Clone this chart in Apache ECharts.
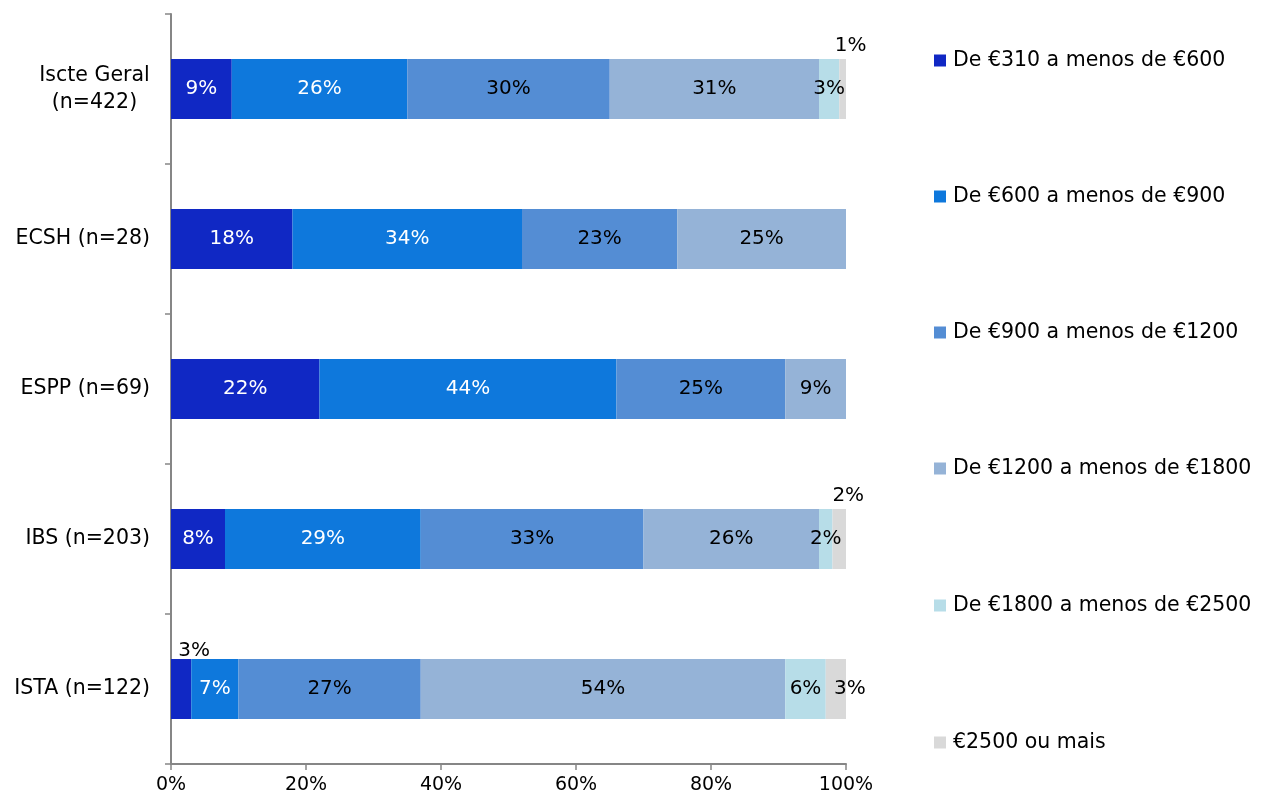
<!DOCTYPE html>
<html>
<head>
<meta charset="utf-8">
<script src="https://cdn.jsdelivr.net/npm/echarts@6/dist/echarts.min.js"></script>
<style>html,body{margin:0;padding:0;background:#fff}#c{width:1286px;height:803px}</style>
</head>
<body>
<div id="c"></div>
<script>
const categories = ['Iscte Geral\n(n=422)', 'ECSH (n=28)', 'ESPP (n=69)', 'IBS (n=203)', 'ISTA (n=122)'];
const seriesNames = ['De €310 a menos de €600', 'De €600 a menos de €900', 'De €900 a menos de €1200', 'De €1200 a menos de €1800', 'De €1800 a menos de €2500', '€2500 ou mais'];
const s310 = [9, 18, 22, 8, 3];
const s600 = [26, 34, 44, 29, 7];
const s900 = [30, 23, 25, 33, 27];
const s1200 = [31, 25, 9, 26, 54];
const s1800 = [3, 0, 0, 2, 6];
const s2500 = [1, 0, 0, 2, 3];
const xTicks = [0, 20, 40, 60, 80, 100];

const values = [s310, s600, s900, s1200, s1800, s2500];
const colors = ['#1028C4', '#0E78DC', '#548DD4', '#95B3D7', '#B7DDE8', '#D9D9D9'];
const labelColors = ['#fff', '#fff', '#000', '#000', '#000', '#000'];
const FONT = 'DejaVu Sans';
const FS = 19;
const FS_BAR = 20;
const FS_TXT = 20.5;

function textWidth(t, fs) {
  const c = document.createElement('canvas').getContext('2d');
  c.font = fs + 'px "' + FONT + '"';
  return c.measureText(t).width;
}

const special = {
  '5-0': {position: 'top', offset: [8, 0], distance: 3},
  '5-3': {position: 'top', offset: [9, 0], distance: 3},
  '0-4': {position: 'top', offset: [13, 0], distance: -2},
  '5-4': {position: 'inside', offset: [14, 0]}
};

const series = values.map((arr, si) => ({
  name: seriesNames[si],
  type: 'bar',
  stack: 'total',
  barWidth: 60,
  itemStyle: {color: colors[si]},
  label: {
    show: true,
    position: 'inside',
    color: labelColors[si],
    fontFamily: FONT,
    fontSize: FS_BAR,
    formatter: p => p.value > 0 ? p.value + '%' : ''
  },
  data: arr.map((v, ci) => {
    const key = si + '-' + ci;
    if (special[key]) {
      return {value: v, label: Object.assign({color: '#000'}, special[key])};
    }
    return v;
  })
}));

const legendTops = [50, 186, 322, 458, 595, 732];
const legends = seriesNames.map((n, i) => ({
  data: [n],
  left: 934,
  top: legendTops[i],
  padding: 0,
  orient: 'vertical',
  itemWidth: 12,
  itemHeight: 12,
  itemGap: 0,
  icon: 'rect',
  textStyle: {fontFamily: FONT, fontSize: FS_TXT, color: '#000', padding: [0, 0, 0, 2]},
  selectedMode: false
}));

const chart = echarts.init(document.getElementById('c'), null, {renderer: 'canvas'});
chart.setOption({
  animation: false,
  backgroundColor: '#fff',
  legend: legends,
  grid: {left: 171, right: 440, top: 14, bottom: 39, containLabel: false},
  xAxis: {
    type: 'value',
    min: 0, max: 100, interval: 20,
    axisLine: {show: true, lineStyle: {color: '#868686', width: 2}},
    axisTick: {show: true, length: 6, lineStyle: {color: '#868686', width: 1.5}},
    splitLine: {show: false},
    axisLabel: {fontFamily: FONT, fontSize: FS, color: '#000', margin: 12,
      formatter: v => xTicks.includes(v) ? v + '%' : ''}
  },
  yAxis: {
    type: 'category',
    inverse: true,
    data: categories,
    axisLine: {show: true, lineStyle: {color: '#868686', width: 2}},
    axisTick: {show: true, length: 6, inside: false, lineStyle: {color: '#868686', width: 1.5}},
    axisLabel: {
      fontFamily: FONT, fontSize: FS_TXT, color: '#000', margin: 21, align: 'right',
      formatter: v => {
        const lines = v.split('\n');
        if (lines.length === 1) return v;
        return lines.map(l => '{c|' + l + '}').join('\n');
      },
      rich: {
        c: {fontFamily: FONT, fontSize: FS_TXT, color: '#000', lineHeight: 27, align: 'center',
            width: Math.ceil(textWidth('Iscte Geral', FS_TXT))}
      }
    }
  },
  series: series
});
</script>
</body>
</html>
